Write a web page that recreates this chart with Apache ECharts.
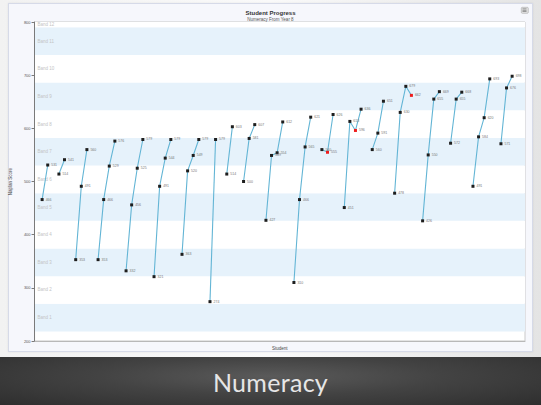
<!DOCTYPE html>
<html>
<head>
<meta charset="utf-8">
<script src="https://cdn.jsdelivr.net/npm/echarts@6/dist/echarts.min.js"></script>
<style>
  html, body { margin: 0; padding: 0; width: 541px; height: 405px; overflow: hidden; }
  body { background: linear-gradient(90deg, #f2f2f2 0%, #fafafa 50%, #e4e4e4 100%); position: relative; font-family: "Liberation Sans", Arial, sans-serif; }
  #frame { position: absolute; left: 8px; top: 3px; width: 523px; height: 347px; background: #f6f7fc; border: 1px solid #d6dae8; box-shadow: 0 0 2px rgba(0,0,0,0.08); }
  #band { position: absolute; left: 0; top: 357px; width: 541px; height: 48px;
          background: radial-gradient(ellipse at 50% 40%, #5a5a5a 0%, #434343 45%, #2e2e2e 100%); }
  #band span { position: absolute; left: 0; width: 541px; top: 10px; text-align: center; color: #e6e6e6; font-family: Lato, "Open Sans", sans-serif; font-size: 25px; letter-spacing: 0.3px; }
  #chart { position: absolute; left: 0; top: 0; width: 541px; height: 405px; }
</style>
</head>
<body>
<div id="frame"></div>
<div id="band"><span>Numeracy</span></div>
<div id="chart"></div>
<script>
// ---- data ----
const titleText = 'Student Progress';
const subtitleText = 'Numeracy From Year 8';
const yAxisName = 'Naplan Score';
const xAxisName = 'Student';
const yTicks = [200, 300, 400, 500, 600, 700, 800];
const bandNames = ['Band 1','Band 2','Band 3','Band 4','Band 5','Band 6','Band 7','Band 8','Band 9','Band 10','Band 11','Band 12'];
const bandEdges = [218, 270, 322, 374, 426, 478, 530, 582, 634, 686, 738, 790, 800];

const s01 = [466, 531];
const s02 = [514, 541];
const s03 = [353, 491, 560];
const s04 = [353, 466, 529, 576];
const s05 = [332, 456, 525, 579];
const s06 = [321, 491, 544, 579];
const s07 = [363, 520, 549, 579];
const s08 = [274, 579];
const s09 = [514, 603];
const s10 = [500, 581, 607];
const s11 = [427, 549, 554, 612];
const s12 = [310, 466, 565, 621];
const s13 = [560, 555, 626];
const s14 = [451, 613, 596, 636];
const s15 = [560, 591, 651];
const s16 = [478, 630, 679, 662];
const s17 = [426, 550, 655, 669];
const s18 = [572, 655, 668];
const s19 = [491, 584, 620, 693];
const s20 = [571, 676, 698];
const students = [s01,s02,s03,s04,s05,s06,s07,s08,s09,s10,s11,s12,s13,s14,s15,s16,s17,s18,s19,s20];

// ---- build series ----
const series = [];
let slot = 0;
students.forEach((scores, i) => {
  const data = scores.map((v, j) => {
    const dec = j > 0 && v < scores[j - 1];
    return { value: [slot + j, v], itemStyle: { color: dec ? '#ee1c1c' : '#1e1e1e' } };
  });
  slot += scores.length + 1;
  series.push({
    type: 'line',
    name: 'Student ' + (i + 1),
    data: data,
    symbol: 'rect',
    symbolSize: 3,
    lineStyle: { color: '#63b5d5', width: 1.1 },
    label: { show: true, position: 'right', distance: 2, fontSize: 3.5, color: '#777',
             formatter: p => String(p.value[1]) },
    z: 5,
    animation: false
  });
});

const bandAreas = bandNames.map((name, i) => ([
  { name: name, yAxis: bandEdges[i],
    itemStyle: { color: i % 2 === 0 ? '#e6f2fb' : '#ffffff', borderWidth: 0 } },
  { yAxis: bandEdges[i + 1] }
]));
series.unshift({
  type: 'line', data: [], silent: true, animation: false,
  markArea: {
    silent: true,
    label: { show: true, position: 'insideLeft', distance: 3, fontSize: 4.5, color: '#c4c4c4',
             textBorderWidth: 0, textShadowBlur: 0, backgroundColor: 'transparent' },
    data: bandAreas
  },
  z: 1
});

const chart = echarts.init(document.getElementById('chart'), null, { renderer: 'svg', width: 541, height: 405 });
chart.setOption({
  backgroundColor: 'transparent',
  animation: false,
  title: {
    text: titleText, subtext: subtitleText, left: 'center', top: 5, itemGap: 1,
    textStyle: { fontSize: 6, fontWeight: 'bold', color: '#333', fontFamily: 'Liberation Sans' },
    subtextStyle: { fontSize: 4.5, color: '#555', fontFamily: 'Liberation Sans' }
  },
  graphic: [
    { type: 'rect', left: 521, top: 7, shape: { width: 7, height: 6, r: 1 },
      style: { fill: '#e2e2e2', stroke: '#a8a8a8', lineWidth: 0.6 } },
    { type: 'rect', left: 522.5, top: 8.6, shape: { width: 4, height: 0.6 }, style: { fill: '#666' } },
    { type: 'rect', left: 522.5, top: 9.9, shape: { width: 4, height: 0.6 }, style: { fill: '#666' } },
    { type: 'rect', left: 522.5, top: 11.2, shape: { width: 4, height: 0.6 }, style: { fill: '#666' } }
  ],
  grid: { left: 27, right: 16, top: 22, bottom: 64, show: true, backgroundColor: '#ffffff', borderColor: '#c9c9c9', borderWidth: 1 },
  xAxis: {
    type: 'value', min: -1.35, max: 86.3,
    name: xAxisName, nameLocation: 'middle', nameGap: 5,
    nameTextStyle: { fontSize: 4.5, color: '#444', fontFamily: 'Liberation Sans' },
    axisLine: { show: true, onZero: false, lineStyle: { color: '#b8b8b8' } },
    axisTick: { show: false }, axisLabel: { show: false }, splitLine: { show: false },
    z: 10
  },
  yAxis: {
    type: 'value', min: yTicks[0], max: yTicks[yTicks.length - 1], interval: 100,
    name: yAxisName, nameLocation: 'middle', nameGap: 14, nameRotate: 90,
    nameTextStyle: { fontSize: 4.5, color: '#444', fontFamily: 'Liberation Sans' },
    axisLine: { show: true, onZero: false, lineStyle: { color: '#7a7a7a', width: 1 } },
    axisTick: { show: true, length: 3, lineStyle: { color: '#7a7a7a' } },
    axisLabel: { fontSize: 4, color: '#555', margin: 4, fontFamily: 'Liberation Sans' },
    splitLine: { show: false },
    z: 10
  },
  series: series
});
</script>
</body>
</html>
